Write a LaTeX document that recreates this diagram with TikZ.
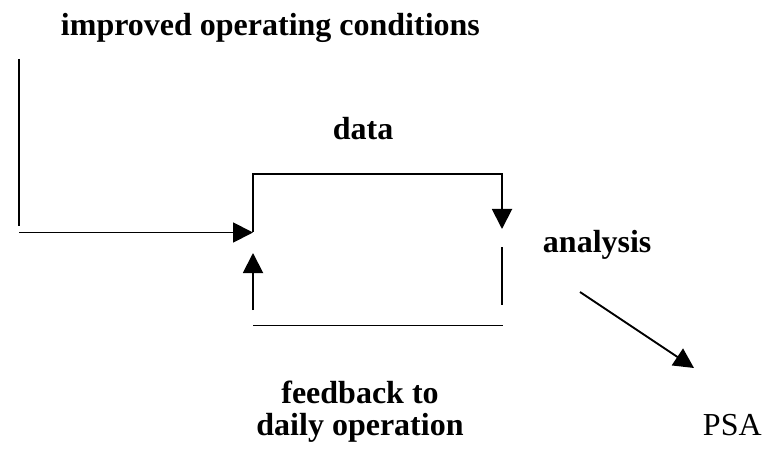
\documentclass[tikz,border=0pt]{standalone}
\usepackage{fontspec}
\setmainfont{Liberation Serif}
\usetikzlibrary{arrows.meta}
\begin{document}
\begin{tikzpicture}[x=1pt, y=-1pt, line width=1.9pt,
  lbl/.style={font=\fontsize{32}{32}\selectfont\bfseries, inner sep=0pt},
  plain/.style={font=\fontsize{32}{32}\selectfont, inner sep=0pt},
  tip/.style={-{Triangle[length=20pt,width=20pt]}}]
\useasboundingbox (0,0) rectangle (770,462);

% labels
\node[lbl, anchor=base west] (cond) at (60,36) {improved operating conditions};
\node[lbl, anchor=base west] (data) at (332,140) {data};
\node[lbl, anchor=base west] (ana) at (542,252) {analysis};
\node[lbl, anchor=base, align=center] (feed) at (360,435) {feedback to\\daily operation};
\node[plain, anchor=base west] (psa) at (702,435) {PSA};

% corner points of the loop
\coordinate (lt) at (19,59);
\coordinate (lb) at (19,226);
\coordinate (in0) at (19,232.5);
\coordinate (in1) at (253,232.5);
\coordinate (bl) at (253,174);
\coordinate (br) at (502,174);
\coordinate (dn) at (502,229);
\coordinate (rs) at (502,247);
\coordinate (re) at (502,305);
\coordinate (bot0) at (253,325.5);
\coordinate (bot1) at (503,325.5);
\coordinate (up0) at (253,310);
\coordinate (up1) at (253,253);
\coordinate (d0) at (580,292);
\coordinate (d1) at (694,368);

% improved conditions fed into the loop
\draw (lt) -- (lb);
\draw[tip] (in0) -- (in1);
% data path
\draw[tip] (in1) -- (bl) -- (br) -- (dn);
\draw (rs) -- (re);
% feedback path
\draw (bot0) -- (bot1);
\draw[tip] (up0) -- (up1);
% analysis to PSA
\draw[tip] (d0) -- (d1);
\end{tikzpicture}
\end{document}
